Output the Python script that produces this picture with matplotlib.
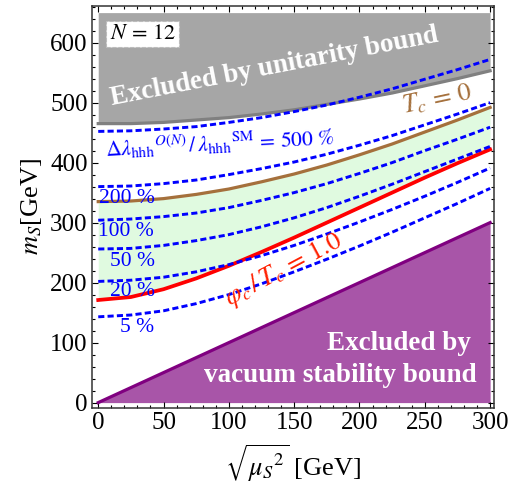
import numpy as np
import matplotlib
matplotlib.use('Agg')
import matplotlib.pyplot as plt
from matplotlib.ticker import MultipleLocator

plt.rcParams['font.family'] = ['Liberation Serif', 'DejaVu Serif']
plt.rcParams['mathtext.fontset'] = 'stix'

mu = [0, 25, 50, 75, 100, 125, 150, 175, 200, 225, 250, 275, 300]

# boundary of the unitarity-excluded region
unitarity = [465, 465, 467, 471, 475, 481, 488, 497, 506, 516, 528, 540, 553]
unitarity_top = 650

# T_c = 0 and phi_c/T_c = 1.0
tc_zero = [335, 336, 340, 347, 356, 368, 381, 396, 413, 431, 451, 471, 492]
strong_pt = [171, 176, 189, 207, 228, 251, 275, 300, 325, 350, 375, 399, 422]

# contours of Delta lambda_hhh / lambda_hhh^SM
contours = {
    '500': [452, 453, 456, 460, 467, 475, 485, 496, 509, 523, 539, 555, 572],
    '200': [360, 361, 365, 371, 380, 390, 401, 414, 429, 445, 463, 481, 500],
    '100': [304, 306, 310, 316, 325, 337, 350, 365, 382, 400, 420, 439, 459],
    '50': [256, 257, 262, 270, 280, 293, 308, 325, 344, 364, 385, 406, 427],
    '20': [202, 204, 209, 218, 230, 245, 262, 281, 301, 322, 344, 367, 391],
    '5': [143, 146, 153, 165, 180, 198, 218, 239, 261, 284, 308, 332, 357],
}

# vacuum stability bound m_S = sqrt(mu_S^2)
vac_x = [0, 300]
vac_y = [0, 300]

fig = plt.figure(figsize=(5.08, 5.01), dpi=100)
ax = fig.add_axes([0.1805, 0.1856, 0.792, 0.8024])

ax.fill_between(mu, strong_pt, tc_zero, color='#e0fae0', lw=0, zorder=1)
ax.fill_between(mu, unitarity, unitarity_top, color='#a6a6a6', lw=0, zorder=1)
ax.plot(mu, unitarity, color='#808080', lw=2.3, zorder=2)
ax.fill_between(vac_x, 0, vac_y, color='#a855a8', lw=0, zorder=1)
ax.plot(vac_x, vac_y, color='#800080', lw=2.3, zorder=3)

ax.plot(mu, tc_zero, color='#a5703c', lw=2.3, zorder=3)
ax.plot(mu, strong_pt, color='#ff0000', lw=2.7, zorder=3)

for k, v in contours.items():
    ax.plot(mu, v, color='#0000ff', lw=2.1, dashes=(2.1, 1.1), zorder=4)

# labels
ax.text(34, 614, r'$N\,=\,12$', fontsize=16, ha='center', va='center',
        bbox=dict(boxstyle='square,pad=0.15', fc='white', ec='#bbbbbb', ls='--', lw=0.8), zorder=6)
ax.text(135, 559, 'Excluded by unitarity bound', fontsize=19.5, fontweight='bold',
        color='white', ha='center', va='center', rotation=11, zorder=6)
ax.text(285, 88, 'Excluded by', fontsize=19.5, fontweight='bold', color='white',
        ha='right', va='baseline', zorder=6)
ax.text(290, 35, 'vacuum stability bound', fontsize=19.5, fontweight='bold', color='white',
        ha='right', va='baseline', zorder=6)
ax.text(259, 505, r'$T_c\,=\,0$', fontsize=19, color='#a5703c', ha='center', va='center',
        rotation=12, zorder=6)
ax.text(142, 221, r'$\varphi_c\,/\,T_c\,=\,1.0$', fontsize=19, color='#ff2000', ha='center',
        va='center', rotation=28, zorder=6)
ax.text(93, 433, r'$\Delta\lambda_{\rm hhh}{}^{O(N)}\,/\,\lambda_{\rm hhh}{}^{\rm SM}\,=\,500\ \%$',
        fontsize=15.5, color='#0000ff', ha='center', va='center', rotation=3, zorder=6)

pct_labels = ['200 %', '100 %', '50 %', '20 %', '5 %']
pct_x = [22, 21, 26, 26, 30]
pct_y = [340, 285, 235, 185, 126]
for s, x, y in zip(pct_labels, pct_x, pct_y):
    ax.text(x, y, s, fontsize=15.5, color='#0000ff', ha='center', va='center', zorder=6)

ax.set_xlim(-5, 303)
ax.set_ylim(-9, 661)
ax.xaxis.set_major_locator(MultipleLocator(50))
ax.xaxis.set_minor_locator(MultipleLocator(10))
ax.yaxis.set_major_locator(MultipleLocator(100))
ax.yaxis.set_minor_locator(MultipleLocator(20))
ax.tick_params(which='both', direction='in', top=True, right=True, labelsize=18, pad=3)
ax.tick_params(which='major', length=4, width=0.8)
ax.tick_params(which='minor', length=2.5, width=0.8)
for s in ax.spines.values():
    s.set_linewidth(1.1)
    s.set_color('#333333')

ax.set_xlabel(r'$\sqrt{{\mu_S}^2}$ [GeV]', fontsize=19, labelpad=6)
ax.set_ylabel(r'$m_S$[GeV]', fontsize=19, labelpad=4)

plt.savefig('out.png', dpi=100)
